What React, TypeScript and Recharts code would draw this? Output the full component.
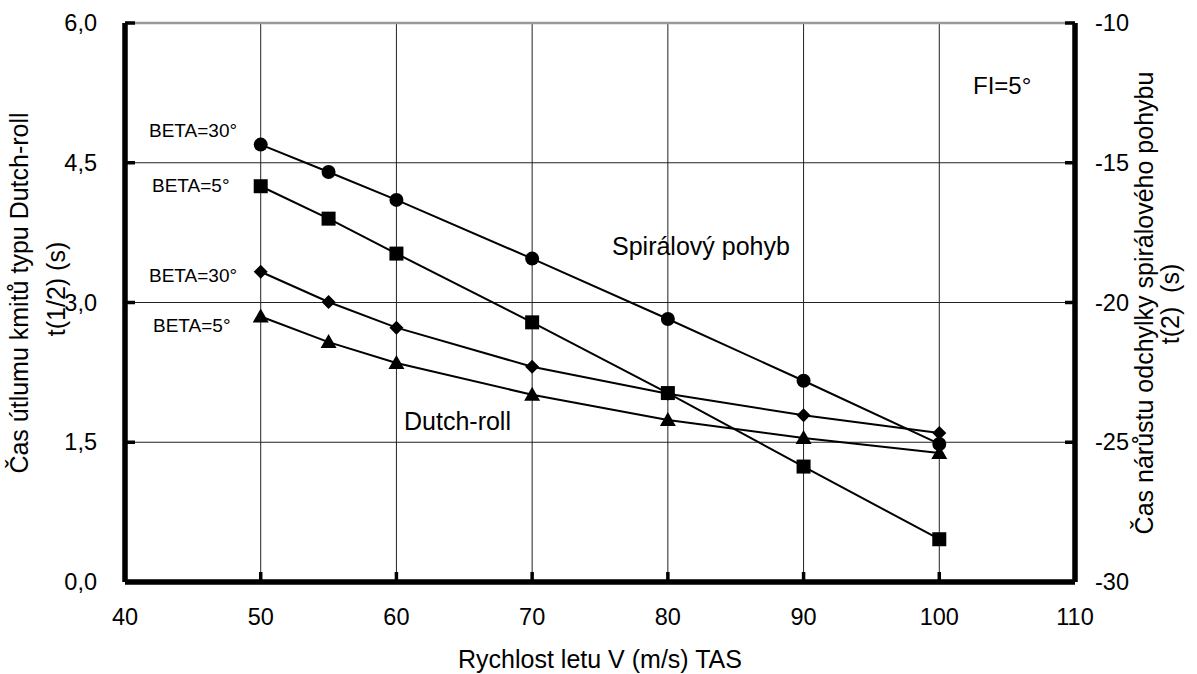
import React from 'react';
import { LineChart, Line, XAxis, YAxis, CartesianGrid, ReferenceLine } from 'recharts';

const speeds = [50, 55, 60, 70, 80, 90, 100];
// Spiral motion t(2) (right axis)
const spiralBeta30 = [-14.35, -15.33, -16.33, -18.43, -20.59, -22.8, -25.06];
const spiralBeta5 = [-15.84, -17.0, -18.25, -20.71, -23.24, -25.87, -28.47];
// Dutch-roll t(1/2) (left axis)
const dutchBeta30 = [3.33, 3.005, 2.73, 2.31, 2.02, 1.79, 1.6];
const dutchBeta5 = [2.85, 2.575, 2.35, 2.01, 1.74, 1.545, 1.385];

const xTicks = [40, 50, 60, 70, 80, 90, 100, 110];
const leftTicks = [0, 1.5, 3, 4.5, 6];
const rightTicks = [-30, -25, -20, -15, -10];

const data = speeds.map((v, i) => ({
  v,
  s30: spiralBeta30[i],
  s5: spiralBeta5[i],
  d30: dutchBeta30[i],
  d5: dutchBeta5[i],
}));

const FONT = "'Liberation Sans', Arial, sans-serif";

const fmtLeft = (n: number) => n.toFixed(1).replace('.', ',');

const LeftTick = (props: any) => {
  const { x, y, payload } = props;
  return (
    <g>
      <line x1={x} x2={x + 10} y1={y} y2={y} stroke="#000" strokeWidth={3.5} />
      <text x={x - 28} y={y} textAnchor="end" dominantBaseline="central" fontSize={23.5} fontFamily={FONT} fill="#000" stroke="none">
        {fmtLeft(payload.value)}
      </text>
    </g>
  );
};

const RightTick = (props: any) => {
  const { x, y, payload } = props;
  return (
    <g>
      <line x1={x} x2={x - 10} y1={y} y2={y} stroke="#000" strokeWidth={3.5} />
      <text x={x + 20} y={y} textAnchor="start" dominantBaseline="central" fontSize={23.5} fontFamily={FONT} fill="#000" stroke="none">
        {String(payload.value)}
      </text>
    </g>
  );
};

const BottomTick = (props: any) => {
  const { x, y, payload } = props;
  return (
    <g>
      <line x1={x} x2={x} y1={y} y2={y - 10} stroke="#000" strokeWidth={3.5} />
      <text x={x} y={y + 35} textAnchor="middle" dominantBaseline="central" fontSize={23.5} fontFamily={FONT} fill="#000" stroke="none">
        {String(payload.value)}
      </text>
    </g>
  );
};

const CircleDot = (p: any) => <circle key={`c${p.index}`} cx={p.cx} cy={p.cy} r={7} fill="#000" />;
const SquareDot = (p: any) => <rect key={`s${p.index}`} x={p.cx - 7} y={p.cy - 7} width={14} height={14} fill="#000" />;
const DiamondDot = (p: any) => (
  <polygon key={`d${p.index}`} points={`${p.cx},${p.cy - 7} ${p.cx + 7},${p.cy} ${p.cx},${p.cy + 7} ${p.cx - 7},${p.cy}`} fill="#000" />
);
const TriangleDot = (p: any) => (
  <polygon key={`t${p.index}`} points={`${p.cx},${p.cy - 8} ${p.cx + 8},${p.cy + 6} ${p.cx - 8},${p.cy + 6}`} fill="#000" />
);

const axisLineStyle = { stroke: '#000', strokeWidth: 5 };

export default function App() {
  return (
    <div style={{ position: 'absolute', left: 0, top: 0, width: 1197, height: 674, background: '#fff' }}>
      <LineChart width={1197} height={674} data={data} margin={{ top: 23, right: 0, bottom: 0, left: 0 }}>
        <CartesianGrid stroke="#222" strokeWidth={1} yAxisId="left" />
        <ReferenceLine y={6} yAxisId="left" stroke="#999" strokeWidth={2.5} />
        <ReferenceLine y={0} yAxisId="left" stroke="#000" strokeWidth={5} />
        <ReferenceLine x={40} yAxisId="left" stroke="#000" strokeWidth={5} />
        <ReferenceLine x={110} yAxisId="left" stroke="#000" strokeWidth={5} />
        <XAxis
          dataKey="v"
          type="number"
          domain={[40, 110]}
          ticks={xTicks}
          height={92}
          tickSize={0}
          tickMargin={0}
          tick={<BottomTick />}
          axisLine={axisLineStyle}
          tickLine={false}
          interval={0}
        />
        <YAxis
          yAxisId="left"
          orientation="left"
          type="number"
          domain={[0, 6]}
          ticks={leftTicks}
          width={125}
          tickSize={0}
          tickMargin={0}
          tick={<LeftTick />}
          axisLine={axisLineStyle}
          tickLine={false}
          interval={0}
        />
        <YAxis
          yAxisId="right"
          orientation="right"
          type="number"
          domain={[-30, -10]}
          ticks={rightTicks}
          width={122}
          tickSize={0}
          tickMargin={0}
          tick={<RightTick />}
          axisLine={axisLineStyle}
          tickLine={false}
          interval={0}
        />
        <Line yAxisId="right" dataKey="s30" stroke="#000" strokeWidth={2} dot={CircleDot} isAnimationActive={false} />
        <Line yAxisId="right" dataKey="s5" stroke="#000" strokeWidth={2} dot={SquareDot} isAnimationActive={false} />
        <Line yAxisId="left" dataKey="d30" stroke="#000" strokeWidth={2} dot={DiamondDot} isAnimationActive={false} />
        <Line yAxisId="left" dataKey="d5" stroke="#000" strokeWidth={2} dot={TriangleDot} isAnimationActive={false} />
      </LineChart>
      <svg width={1197} height={674} style={{ position: 'absolute', left: 0, top: 0, pointerEvents: 'none' }} fontFamily={FONT} fill="#000">
        <text x={149} y={137} fontSize={19}>BETA=30°</text>
        <text x={152} y={192} fontSize={19}>BETA=5°</text>
        <text x={149} y={282} fontSize={19}>BETA=30°</text>
        <text x={153} y={332} fontSize={19}>BETA=5°</text>
        <text x={612} y={255} fontSize={25}>Spirálový pohyb</text>
        <text x={404} y={430} fontSize={25}>Dutch-roll</text>
        <text x={973} y={94} fontSize={24}>FI=5°</text>
        <text x={600} y={668} fontSize={25} textAnchor="middle">Rychlost letu V (m/s) TAS</text>
        <text x={28} y={293} fontSize={25} textAnchor="middle" transform="rotate(-90 28 293)">Čas útlumu kmitů typu Dutch-roll</text>
        <text x={65} y={289} fontSize={25} textAnchor="middle" transform="rotate(-90 65 289)">t(1/2) (s)</text>
        <text x={1153} y={303} fontSize={25} textAnchor="middle" transform="rotate(-90 1153 303)">Čas nárůstu odchylky spirálového pohybu</text>
        <text x={1179} y={304} fontSize={25} textAnchor="middle" transform="rotate(-90 1179 304)" style={{ whiteSpace: 'pre' }}>t(2)  (s)</text>
      </svg>
    </div>
  );
}
